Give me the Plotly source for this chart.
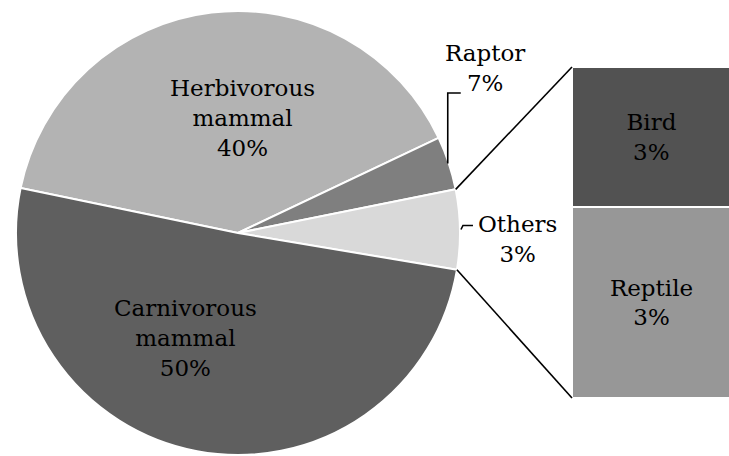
import math
import plotly.graph_objects as go

# ---------------- data ----------------
pie_labels = ["Herbivorous mammal", "Raptor", "Others", "Carnivorous mammal"]
pie_values = [39.7, 3.9, 5.8, 50.6]
pie_text = ["Herbivorous<br>mammal<br>40%", "Raptor<br>7%", "Others<br>3%", "Carnivorous<br>mammal<br>50%"]
pie_colors = ["#b3b3b3", "#7f7f7f", "#d9d9d9", "#5f5f5f"]

bar_labels = ["Reptile", "Bird"]          # bottom to top
bar_values = [3.35, 2.45]
bar_text = ["Reptile<br>3%", "Bird<br>3%"]
bar_colors = ["#979797", "#525252"]

# ---------------- layout geometry ----------------
W, H = 729, 456
cx, cy, R = 238, 233, 222          # pie centre / radius in pixels
rotation = -78.3                   # start angle of first slice (clockwise from 12 o'clock)
FONT = "DejaVu Serif"
FS = 23

pie_dom_x = [(cx - R) / W, (cx + R) / W]
pie_dom_y = [(H - cy - R) / H, (H - cy + R) / H]
bar_dom_x = [572 / W, 1.0]
bar_dom_y = [(H - 398) / H, (H - 67) / H]

# label block centres (pixels)
label_pos = {
    "Herbivorous mammal": (242, 118),
    "Raptor": (485, 68),
    "Others": (517, 239),
    "Carnivorous mammal": (185, 338),
}


def px_to_paper(x, y):
    return x / W, 1 - y / H


def pie_point(angle_deg, r=R):
    a = math.radians(angle_deg)
    return cx + r * math.sin(a), cy - r * math.cos(a)


total = sum(pie_values)
bounds = [rotation]
for v in pie_values:
    bounds.append(bounds[-1] + 360 * v / total)

fig = go.Figure()

fig.add_trace(go.Pie(
    labels=pie_labels, values=pie_values, sort=False, direction="clockwise",
    rotation=rotation, domain=dict(x=pie_dom_x, y=pie_dom_y),
    marker=dict(colors=pie_colors, line=dict(color="white", width=2)),
    textinfo="none",
    showlegend=False, hoverinfo="label+percent",
))

for lab, val, txt, col in zip(bar_labels, bar_values, bar_text, bar_colors):
    fig.add_trace(go.Bar(
        x=[0.5], y=[val], width=[1.0], name=lab, xaxis="x2", yaxis="y2",
        marker=dict(color=col, line=dict(color="white", width=2)),
        text=[txt], textposition="inside", insidetextanchor="middle",
        textangle=0, constraintext="none",
        textfont=dict(family=FONT, size=FS, color="black"),
        showlegend=False,
    ))

shapes = []
line = dict(color="black", width=1.6)

# connector lines from "Others" slice to the bar
others_i = pie_labels.index("Others")
p_top = pie_point(bounds[others_i])
p_bot = pie_point(bounds[others_i + 1])
x0, y0 = px_to_paper(*p_top)
shapes.append(dict(type="line", xref="paper", yref="paper", x0=x0, y0=y0,
                   x1=bar_dom_x[0], y1=bar_dom_y[1], line=line))
x0, y0 = px_to_paper(*p_bot)
shapes.append(dict(type="line", xref="paper", yref="paper", x0=x0, y0=y0,
                   x1=bar_dom_x[0], y1=bar_dom_y[0], line=line))

# leader line for Raptor
ri = pie_labels.index("Raptor")
mid = (bounds[ri] + bounds[ri + 1]) / 2
sx, sy = pie_point(mid, R - 1)
pts = [(sx, sy), (sx, 93), (sx + 13, 93)]
path = "M " + " L ".join("%f,%f" % px_to_paper(*p) for p in pts)
shapes.append(dict(type="path", xref="paper", yref="paper", path=path, line=line))

# leader line for Others
mid = (bounds[others_i] + bounds[others_i + 1]) / 2
sx, sy = pie_point(mid, R + 1)
pts = [(sx, sy), (sx + 2, sy - 4), (sx + 12, sy - 4)]
path = "M " + " L ".join("%f,%f" % px_to_paper(*p) for p in pts)
shapes.append(dict(type="path", xref="paper", yref="paper", path=path, line=line))

annotations = []
for lab, txt in zip(pie_labels, pie_text):
    ax, ay = px_to_paper(*label_pos[lab])
    annotations.append(dict(x=ax, y=ay, xref="paper", yref="paper", text=txt,
                            showarrow=False, xanchor="center", yanchor="middle",
                            font=dict(family=FONT, size=FS, color="black")))

fig.update_layout(
    width=W, height=H, margin=dict(l=0, r=0, t=0, b=0),
    paper_bgcolor="white", plot_bgcolor="white",
    barmode="stack", bargap=0,
    uniformtext=dict(minsize=FS, mode="show"),
    xaxis2=dict(domain=bar_dom_x, range=[0, 0.99], visible=False, anchor="y2", fixedrange=True),
    yaxis2=dict(domain=bar_dom_y, range=[0, sum(bar_values)], visible=False, anchor="x2", fixedrange=True),
    xaxis=dict(visible=False), yaxis=dict(visible=False),
    shapes=shapes, annotations=annotations,
)

fig.write_html("out.html", config={"displayModeBar": False},
               post_script="document.body.style.margin='0';document.body.style.overflow='hidden';")
